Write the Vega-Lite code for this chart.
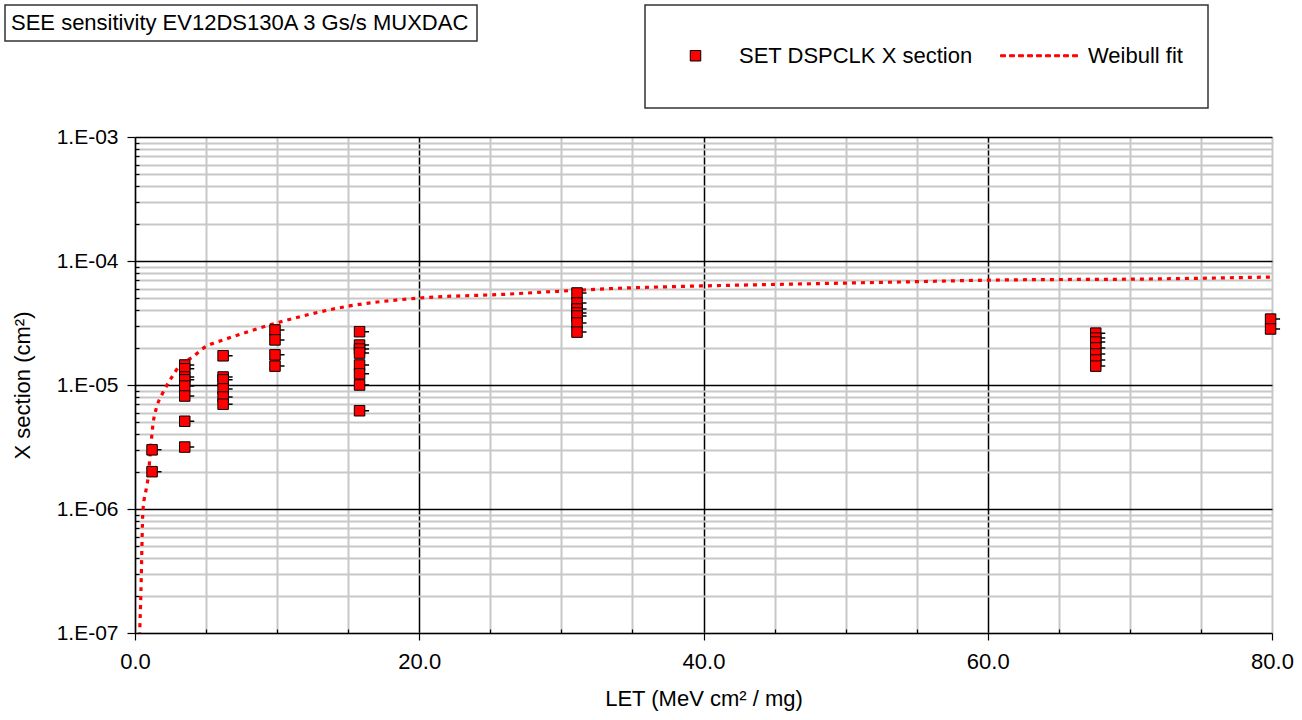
{
  "$schema": "https://vega.github.io/schema/vega-lite/v6.json",
  "width": 1137,
  "height": 496,
  "autosize": {"type": "none"},
  "padding": {"left": 135, "top": 137, "right": 30, "bottom": 87},
  "background": "white",
  "config": {
    "font": "Liberation Sans",
    "view": {"stroke": null},
    "legend": {"strokeWidth": 1.5, "labelLimit": 0}
  },
  "datasets": {
    "pts": [
      {"series": "SET DSPCLK X section", "let": 1.2, "xs": 3.0e-6},
      {"series": "SET DSPCLK X section", "let": 1.2, "xs": 2.0e-6},
      {"series": "SET DSPCLK X section", "let": 3.5, "xs": 1.45e-5},
      {"series": "SET DSPCLK X section", "let": 3.5, "xs": 1.35e-5},
      {"series": "SET DSPCLK X section", "let": 3.5, "xs": 1.16e-5},
      {"series": "SET DSPCLK X section", "let": 3.5, "xs": 1.10e-5},
      {"series": "SET DSPCLK X section", "let": 3.5, "xs": 9.8e-6},
      {"series": "SET DSPCLK X section", "let": 3.5, "xs": 8.15e-6},
      {"series": "SET DSPCLK X section", "let": 3.5, "xs": 5.1e-6},
      {"series": "SET DSPCLK X section", "let": 3.5, "xs": 3.16e-6},
      {"series": "SET DSPCLK X section", "let": 6.2, "xs": 1.72e-5},
      {"series": "SET DSPCLK X section", "let": 6.2, "xs": 1.16e-5},
      {"series": "SET DSPCLK X section", "let": 6.2, "xs": 1.10e-5},
      {"series": "SET DSPCLK X section", "let": 6.2, "xs": 9.3e-6},
      {"series": "SET DSPCLK X section", "let": 6.2, "xs": 8.0e-6},
      {"series": "SET DSPCLK X section", "let": 6.2, "xs": 7.0e-6},
      {"series": "SET DSPCLK X section", "let": 9.85, "xs": 2.78e-5},
      {"series": "SET DSPCLK X section", "let": 9.85, "xs": 2.31e-5},
      {"series": "SET DSPCLK X section", "let": 9.85, "xs": 1.75e-5},
      {"series": "SET DSPCLK X section", "let": 9.85, "xs": 1.42e-5},
      {"series": "SET DSPCLK X section", "let": 15.8, "xs": 2.69e-5},
      {"series": "SET DSPCLK X section", "let": 15.8, "xs": 2.10e-5},
      {"series": "SET DSPCLK X section", "let": 15.8, "xs": 1.95e-5},
      {"series": "SET DSPCLK X section", "let": 15.8, "xs": 1.81e-5},
      {"series": "SET DSPCLK X section", "let": 15.8, "xs": 1.45e-5},
      {"series": "SET DSPCLK X section", "let": 15.8, "xs": 1.23e-5},
      {"series": "SET DSPCLK X section", "let": 15.8, "xs": 1.0e-5},
      {"series": "SET DSPCLK X section", "let": 15.8, "xs": 6.2e-6},
      {"series": "SET DSPCLK X section", "let": 31.1, "xs": 5.52e-5},
      {"series": "SET DSPCLK X section", "let": 31.1, "xs": 4.58e-5},
      {"series": "SET DSPCLK X section", "let": 31.1, "xs": 4.10e-5},
      {"series": "SET DSPCLK X section", "let": 31.1, "xs": 3.81e-5},
      {"series": "SET DSPCLK X section", "let": 31.1, "xs": 3.60e-5},
      {"series": "SET DSPCLK X section", "let": 31.1, "xs": 3.16e-5},
      {"series": "SET DSPCLK X section", "let": 31.1, "xs": 2.67e-5},
      {"series": "SET DSPCLK X section", "let": 67.6, "xs": 2.62e-5},
      {"series": "SET DSPCLK X section", "let": 67.6, "xs": 2.39e-5},
      {"series": "SET DSPCLK X section", "let": 67.6, "xs": 2.22e-5},
      {"series": "SET DSPCLK X section", "let": 67.6, "xs": 1.99e-5},
      {"series": "SET DSPCLK X section", "let": 67.6, "xs": 1.78e-5},
      {"series": "SET DSPCLK X section", "let": 67.6, "xs": 1.59e-5},
      {"series": "SET DSPCLK X section", "let": 67.6, "xs": 1.42e-5},
      {"series": "SET DSPCLK X section", "let": 79.9, "xs": 3.40e-5},
      {"series": "SET DSPCLK X section", "let": 79.9, "xs": 2.83e-5}
    ],
    "fit": [
      {"series": "Weibull fit", "let": 0.3, "xs": 8.0e-8},
      {"series": "Weibull fit", "let": 0.42, "xs": 2.2e-7},
      {"series": "Weibull fit", "let": 0.56, "xs": 9.8e-7},
      {"series": "Weibull fit", "let": 0.82, "xs": 1.51e-6},
      {"series": "Weibull fit", "let": 0.94, "xs": 1.85e-6},
      {"series": "Weibull fit", "let": 1.06, "xs": 2.72e-6},
      {"series": "Weibull fit", "let": 1.25, "xs": 4.67e-6},
      {"series": "Weibull fit", "let": 1.53, "xs": 6.68e-6},
      {"series": "Weibull fit", "let": 1.88, "xs": 8.3e-6},
      {"series": "Weibull fit", "let": 2.23, "xs": 9.87e-6},
      {"series": "Weibull fit", "let": 2.58, "xs": 1.15e-5},
      {"series": "Weibull fit", "let": 3.17, "xs": 1.45e-5},
      {"series": "Weibull fit", "let": 4.1, "xs": 1.69e-5},
      {"series": "Weibull fit", "let": 4.69, "xs": 1.94e-5},
      {"series": "Weibull fit", "let": 5.51, "xs": 2.17e-5},
      {"series": "Weibull fit", "let": 6.21, "xs": 2.31e-5},
      {"series": "Weibull fit", "let": 10.2, "xs": 3.22e-5},
      {"series": "Weibull fit", "let": 15.1, "xs": 4.34e-5},
      {"series": "Weibull fit", "let": 20.05, "xs": 5.03e-5},
      {"series": "Weibull fit", "let": 26.0, "xs": 5.39e-5},
      {"series": "Weibull fit", "let": 29.2, "xs": 5.65e-5},
      {"series": "Weibull fit", "let": 34.1, "xs": 6.03e-5},
      {"series": "Weibull fit", "let": 39.8, "xs": 6.29e-5},
      {"series": "Weibull fit", "let": 46.8, "xs": 6.53e-5},
      {"series": "Weibull fit", "let": 53.8, "xs": 6.77e-5},
      {"series": "Weibull fit", "let": 60.9, "xs": 7.03e-5},
      {"series": "Weibull fit", "let": 71.4, "xs": 7.16e-5},
      {"series": "Weibull fit", "let": 80.0, "xs": 7.43e-5}
    ]
  },
  "encoding": {
    "x": {
      "field": "let", "type": "quantitative",
      "scale": {"domain": [0, 80], "nice": false, "zero": false},
      "axis": {
        "title": "LET (MeV cm² / mg)",
        "values": [0,5,10,15,20,25,30,35,40,45,50,55,60,65,70,75,80],
        "labelExpr": "datum.value % 20 === 0 ? format(datum.value, '.1f') : ''",
        "labelFontSize": 22, "labelColor": "black", "labelPadding": 11,
        "labelOverlap": false, "labelFlush": false,
        "titleFontSize": 22, "titleFontWeight": "normal", "titleColor": "black", "titlePadding": 16,
        "domainColor": "black", "domainWidth": 1.5,
        "grid": true,
        "gridColor": {"condition": {"test": "datum.value % 20 === 0 && datum.value > 0 && datum.value < 80", "value": "black"}, "value": "#c8c8c8"},
        "gridWidth": {"condition": {"test": "datum.value % 20 === 0 && datum.value > 0 && datum.value < 80", "value": 1.5}, "value": 2},
        "tickColor": "black",
        "tickSize": {"condition": {"test": "datum.value % 20 === 0", "value": 7}, "value": -4},
        "tickWidth": 1.2
      }
    },
    "y": {
      "field": "xs", "type": "quantitative",
      "scale": {"type": "log", "domain": [1e-7, 1e-3], "nice": false},
      "axis": {
        "title": "X section (cm²)",
        "values": [1e-7,2e-7,3e-7,4e-7,5e-7,6e-7,7e-7,8e-7,9e-7,1e-6,2e-6,3e-6,4e-6,5e-6,6e-6,7e-6,8e-6,9e-6,1e-5,2e-5,3e-5,4e-5,5e-5,6e-5,7e-5,8e-5,9e-5,1e-4,2e-4,3e-4,4e-4,5e-4,6e-4,7e-4,8e-4,9e-4,1e-3],
        "labelExpr": "abs(log(datum.value)/LN10 - round(log(datum.value)/LN10)) < 0.001 ? '1.E-0' + format(-round(log(datum.value)/LN10), 'd') : ''",
        "labelFontSize": 21, "labelColor": "black", "labelPadding": 9,
        "labelOverlap": false, "labelFlush": false,
        "titleFontSize": 22, "titleFontWeight": "normal", "titleColor": "black", "titlePadding": 22,
        "domainColor": "black", "domainWidth": 1.5,
        "grid": true,
        "gridColor": {"condition": {"test": "abs(log(datum.value)/LN10 - round(log(datum.value)/LN10)) < 0.001 && datum.value > 1.5e-7", "value": "black"}, "value": "#c8c8c8"},
        "gridWidth": {"condition": {"test": "abs(log(datum.value)/LN10 - round(log(datum.value)/LN10)) < 0.001", "value": 1.5}, "value": 2},
        "tickColor": "black",
        "tickSize": {"condition": {"test": "abs(log(datum.value)/LN10 - round(log(datum.value)/LN10)) < 0.001", "value": 8}, "value": -4},
        "tickWidth": 1.2
      }
    }
  },
  "layer": [
    {
      "data": {"name": "fit"},
      "mark": {"type": "line", "strokeWidth": 3.2, "strokeDash": [4, 5], "clip": true, "interpolate": "monotone"},
      "encoding": {
        "stroke": {
          "field": "series", "type": "nominal",
          "scale": {"domain": ["SET DSPCLK X section", "Weibull fit"], "range": ["black", "#ff0000"]},
          "legend": {"orient": "none", "legendX": 510, "legendY": -132, "direction": "horizontal", "title": null, "padding": 25, "symbolSize": 2500, "labelOffset": 18, "columnPadding": 25, "labelFontSize": 22, "labelColor": "black", "strokeColor": "#333333", "fillColor": "white", "symbolStrokeWidth": 1, "symbolOpacity": 1}
        }
      }
    },
    {
      "data": {"name": "pts"},
      "mark": {"type": "point", "shape": "M0.21,0H0.38", "size": 2500, "filled": false, "stroke": "black", "strokeWidth": 1.5, "opacity": 1},
      "encoding": {
        "strokeDash": {
          "datum": "SEE sensitivity EV12DS130A 3 Gs/s MUXDAC",
          "scale": {"range": [[1, 0]]},
          "legend": {"orient": "none", "legendX": -130, "legendY": -132, "title": null, "padding": 7, "symbolType": "circle", "symbolSize": 0, "labelOffset": -23, "labelFontSize": 22, "labelColor": "black", "strokeColor": "#333333", "fillColor": "white", "symbolOpacity": 0}
        }
      }
    },
    {
      "data": {"name": "pts"},
      "mark": {"type": "point", "size": 2500, "filled": true, "strokeWidth": 1, "opacity": 1},
      "encoding": {
        "shape": {
          "field": "series", "type": "nominal",
          "scale": {"domain": ["SET DSPCLK X section", "Weibull fit"], "range": ["M-1,-1M1,1M-0.21,-0.21H0.21V0.21H-0.21Z", "M0,-1M0,1M-1.76,-0.04h0.2v0.08h-0.2zM-1.4,-0.04h0.2v0.08h-0.2zM-1.04,-0.04h0.2v0.08h-0.2zM-0.68,-0.04h0.2v0.08h-0.2zM-0.32,-0.04h0.2v0.08h-0.2zM0.04,-0.04h0.2v0.08h-0.2zM0.4,-0.04h0.2v0.08h-0.2zM0.76,-0.04h0.2v0.08h-0.2zM1.12,-0.04h0.2v0.08h-0.2z"]},
          "legend": {"orient": "none", "legendX": 510, "legendY": -132, "direction": "horizontal", "title": null, "padding": 25, "symbolSize": 2500, "labelOffset": 18, "columnPadding": 25, "labelFontSize": 22, "labelColor": "black", "strokeColor": "#333333", "fillColor": "white", "symbolStrokeWidth": 1, "symbolOpacity": 1}
        },
        "fill": {
          "field": "series", "type": "nominal",
          "scale": {"domain": ["SET DSPCLK X section", "Weibull fit"], "range": ["#ff0000", "#ff0000"]},
          "legend": {"orient": "none", "legendX": 510, "legendY": -132, "direction": "horizontal", "title": null, "padding": 25, "symbolSize": 2500, "labelOffset": 18, "columnPadding": 25, "labelFontSize": 22, "labelColor": "black", "strokeColor": "#333333", "fillColor": "white", "symbolStrokeWidth": 1, "symbolOpacity": 1}
        },
        "stroke": {
          "field": "series", "type": "nominal",
          "scale": {"domain": ["SET DSPCLK X section", "Weibull fit"], "range": ["black", "#ff0000"]},
          "legend": {"orient": "none", "legendX": 510, "legendY": -132, "direction": "horizontal", "title": null, "padding": 25, "symbolSize": 2500, "labelOffset": 18, "columnPadding": 25, "labelFontSize": 22, "labelColor": "black", "strokeColor": "#333333", "fillColor": "white", "symbolStrokeWidth": 1, "symbolOpacity": 1}
        }
      }
    }
  ]
}
